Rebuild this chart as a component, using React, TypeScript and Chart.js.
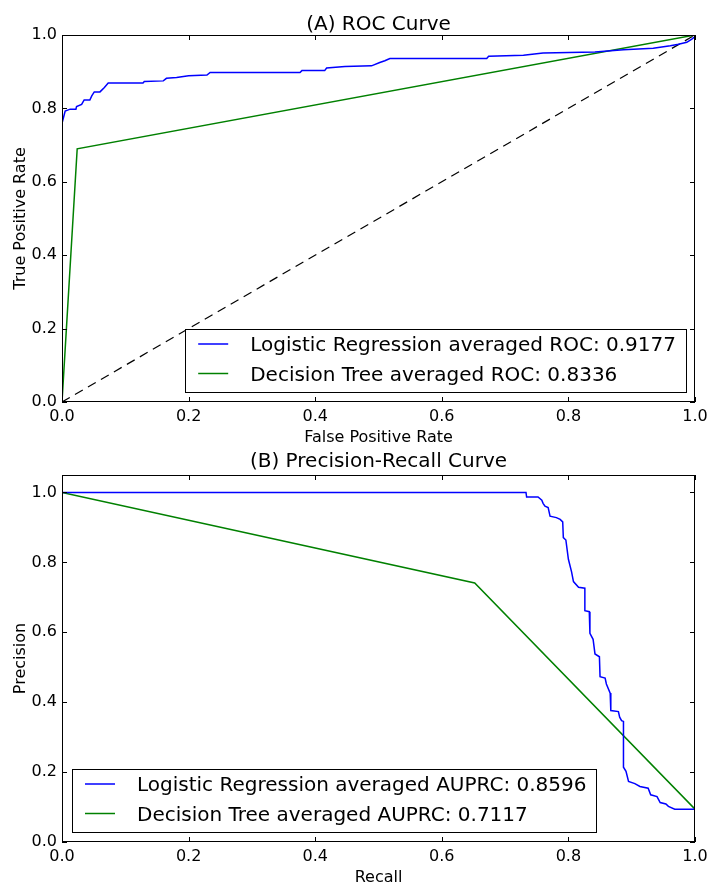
import React, { useEffect, useRef } from "react";
import { Chart, registerables } from "chart.js";

Chart.register(...registerables);

const FONT = '"DejaVu Sans", "Liberation Sans", sans-serif';

// ---------- Data ----------
const unitTicks = [0, 0.2, 0.4, 0.6, 0.8, 1.0];

const rocTitle = "(A) ROC Curve";
const rocXLabel = "False Positive Rate";
const rocYLabel = "True Positive Rate";
const rocLegend = [
  "Logistic Regression averaged ROC: 0.9177",
  "Decision Tree averaged ROC: 0.8336",
];

const rocFprLR = [
  0, 0, 0.0005, 0.005, 0.013, 0.022, 0.023, 0.031, 0.035, 0.044, 0.047, 0.051,
  0.06, 0.067, 0.073, 0.128, 0.13, 0.16, 0.165, 0.181, 0.2, 0.229, 0.234, 0.376,
  0.379, 0.415, 0.418, 0.447, 0.489, 0.502, 0.51, 0.518, 0.671, 0.674, 0.729,
  0.76, 0.842, 0.887, 0.934, 0.961, 0.974, 0.987, 0.995, 1.0, 1.0,
];
const rocTprLR = [
  0, 0.745, 0.761, 0.793, 0.798, 0.798, 0.805, 0.811, 0.823, 0.823, 0.834, 0.845,
  0.845, 0.857, 0.869, 0.869, 0.873, 0.875, 0.882, 0.884, 0.889, 0.891, 0.898,
  0.898, 0.903, 0.903, 0.91, 0.914, 0.916, 0.925, 0.93, 0.936, 0.936, 0.942,
  0.945, 0.951, 0.954, 0.96, 0.964, 0.971, 0.975, 0.98, 0.989, 0.996, 1.0,
];
const rocFprDT = [0, 0.024, 1.0];
const rocTprDT = [0, 0.69, 1.0];
const rocDiagX = [0, 1];
const rocDiagY = [0, 1];

const prTitle = "(B) Precision-Recall Curve";
const prXLabel = "Recall";
const prYLabel = "Precision";
const prLegend = [
  "Logistic Regression averaged AUPRC: 0.8596",
  "Decision Tree averaged AUPRC: 0.7117",
];

const prRecallLR = [
  0, 0.733, 0.734, 0.752, 0.758, 0.76, 0.763, 0.768, 0.771, 0.781, 0.787, 0.791,
  0.792, 0.796, 0.8, 0.805, 0.808, 0.816, 0.826, 0.826, 0.833, 0.834, 0.839,
  0.842, 0.849, 0.85, 0.858, 0.86, 0.866, 0.867, 0.879, 0.881, 0.884, 0.887,
  0.887, 0.891, 0.895, 0.905, 0.913, 0.926, 0.93, 0.94, 0.945, 0.954, 0.958,
  0.968, 1.0,
];
const prPrecLR = [
  1.0, 1.0, 0.987, 0.987, 0.978, 0.969, 0.961, 0.957, 0.932, 0.928, 0.923, 0.916,
  0.871, 0.864, 0.809, 0.773, 0.745, 0.729, 0.726, 0.662, 0.659, 0.597, 0.58,
  0.538, 0.53, 0.473, 0.469, 0.452, 0.426, 0.376, 0.373, 0.357, 0.347, 0.345,
  0.214, 0.202, 0.173, 0.167, 0.159, 0.154, 0.135, 0.13, 0.113, 0.109, 0.102,
  0.094, 0.094,
];
const prRecallDT = [0, 0.652, 1.0];
const prPrecDT = [1.0, 0.741, 0.094];

// ---------- Helpers ----------
const BLUE = "#0000ff";
const GREEN = "#008000";

function pts(xs: number[], ys: number[]) {
  return xs.map((x, i) => ({ x, y: ys[i] }));
}

type PanelCfg = {
  title: string;
  xLabel: string;
  yLabel: string;
  legend: string[];
  legendAlign: "left" | "right";
  yMax: number;
  padTop: number;
  xScaleHeight: number;
  titleBaseline: number; // offset above chart top
  xLabelBaseline: number; // offset below chart bottom
  datasets: any[];
};

function makePlugin(cfg: PanelCfg) {
  return {
    id: "mplFrame",
    afterDatasetsDraw(chart: any) {
      const ctx = chart.ctx;
      const { left, right, top, bottom } = chart.chartArea;
      const xs = chart.scales.x;
      const ys = chart.scales.y;
      ctx.save();
      ctx.strokeStyle = "#000";
      ctx.lineWidth = 1;
      // inward tick marks
      const tl = 5;
      ctx.beginPath();
      unitTicks.forEach((v) => {
        const px = Math.round(xs.getPixelForValue(v)) + 0.5;
        ctx.moveTo(px, bottom);
        ctx.lineTo(px, bottom - tl);
        ctx.moveTo(px, top);
        ctx.lineTo(px, top + tl);
        const py = Math.round(ys.getPixelForValue(v)) + 0.5;
        ctx.moveTo(left, py);
        ctx.lineTo(left + tl, py);
        ctx.moveTo(right, py);
        ctx.lineTo(right - tl, py);
      });
      ctx.stroke();
      // frame
      ctx.strokeRect(left + 0.5, top + 0.5, right - left - 1, bottom - top - 1);

      // legend
      const fs = 20;
      ctx.font = `${fs}px ${FONT}`;
      const tw = Math.max(...cfg.legend.map((t) => ctx.measureText(t).width));
      const boxW = 13 + 30 + 22 + tw + 10;
      const boxH = 63;
      const boxB = bottom - 10;
      const boxT = boxB - boxH;
      const boxL = cfg.legendAlign === "right" ? right - 9 - boxW : left + 10;
      ctx.fillStyle = "#fff";
      ctx.fillRect(boxL, boxT, boxW, boxH);
      ctx.strokeStyle = "#000";
      ctx.strokeRect(Math.round(boxL) + 0.5, Math.round(boxT) + 0.5, Math.round(boxW), Math.round(boxH));
      const colors = [BLUE, GREEN];
      cfg.legend.forEach((t, i) => {
        const ly = boxT + 15 + i * 29.5;
        ctx.strokeStyle = colors[i];
        ctx.lineWidth = 1.5;
        ctx.beginPath();
        ctx.moveTo(boxL + 13, ly);
        ctx.lineTo(boxL + 43, ly);
        ctx.stroke();
        ctx.fillStyle = "#000";
        ctx.textAlign = "left";
        ctx.textBaseline = "alphabetic";
        ctx.fillText(t, boxL + 65, ly + fs * 0.3645);
      });

      // titles
      ctx.fillStyle = "#000";
      ctx.textAlign = "center";
      ctx.textBaseline = "alphabetic";
      ctx.font = `20px ${FONT}`;
      ctx.fillText(cfg.title, (left + right) / 2, top - cfg.titleBaseline);
      ctx.font = `16px ${FONT}`;
      ctx.fillText(cfg.xLabel, (left + right) / 2, bottom + cfg.xLabelBaseline);
      ctx.save();
      ctx.translate(24.5, (top + bottom) / 2);
      ctx.rotate(-Math.PI / 2);
      ctx.fillText(cfg.yLabel, 0, 0);
      ctx.restore();
      ctx.restore();
    },
  };
}

function Panel({ cfg, height }: { cfg: PanelCfg; height: number }) {
  const ref = useRef<HTMLCanvasElement | null>(null);
  useEffect(() => {
    if (!ref.current) return;
    const tickFont = { family: FONT, size: 16 };
    const chart = new Chart(ref.current, {
      type: "line",
      data: { datasets: cfg.datasets },
      options: {
        animation: false,
        responsive: false,
        maintainAspectRatio: false,
        layout: { padding: { top: cfg.padTop, right: 13, left: 0, bottom: 0 } },
        plugins: {
          legend: { display: false },
          title: { display: false },
          tooltip: { enabled: false },
        },
        elements: { point: { radius: 0 }, line: { tension: 0 } },
        scales: {
          x: {
            type: "linear",
            min: 0,
            max: 1,
            grid: { display: false, drawTicks: false },
            border: { display: false },
            ticks: {
              font: tickFont,
              color: "#000",
              padding: 5,
              maxRotation: 0,
              autoSkip: false,
              callback: (v: any) => Number(v).toFixed(1),
            },
            afterBuildTicks: (s: any) => {
              s.ticks = unitTicks.map((v) => ({ value: v }));
            },
            afterFit: (s: any) => {
              s.height = cfg.xScaleHeight;
              s.paddingLeft = 0;
              s.paddingRight = 0;
            },
          },
          y: {
            type: "linear",
            min: 0,
            max: cfg.yMax,
            grid: { display: false, drawTicks: false },
            border: { display: false },
            ticks: {
              font: tickFont,
              color: "#000",
              padding: 5,
              autoSkip: false,
              callback: (v: any) => Number(v).toFixed(1),
            },
            afterBuildTicks: (s: any) => {
              s.ticks = unitTicks.map((v) => ({ value: v }));
            },
            afterFit: (s: any) => {
              s.width = 62;
              s.paddingTop = 0;
              s.paddingBottom = 0;
            },
          },
        },
      },
      plugins: [makePlugin(cfg)],
    } as any);
    return () => chart.destroy();
  }, [cfg, height]);
  return (
    <canvas
      ref={ref}
      width={708}
      height={height}
      style={{ display: "block", width: 708, height }}
    />
  );
}

const rocCfg: PanelCfg = {
  title: rocTitle,
  xLabel: rocXLabel,
  yLabel: rocYLabel,
  legend: rocLegend,
  legendAlign: "right",
  yMax: 1.0,
  padTop: 35,
  xScaleHeight: 45,
  titleBaseline: 5,
  xLabelBaseline: 40,
  datasets: [
    {
      data: pts(rocFprLR, rocTprLR),
      borderColor: BLUE,
      borderWidth: 1.5,
      fill: false,
    },
    {
      data: pts(rocFprDT, rocTprDT),
      borderColor: GREEN,
      borderWidth: 1.5,
      fill: false,
    },
    {
      data: pts(rocDiagX, rocDiagY),
      borderColor: "#000",
      borderWidth: 1.2,
      borderDash: [9, 6],
      fill: false,
    },
  ],
};

const prCfg: PanelCfg = {
  title: prTitle,
  xLabel: prXLabel,
  yLabel: prYLabel,
  legend: prLegend,
  legendAlign: "left",
  yMax: 1.05,
  padTop: 28,
  xScaleHeight: 42,
  titleBaseline: 8,
  xLabelBaseline: 40,
  datasets: [
    {
      data: pts(prRecallLR, prPrecLR),
      borderColor: BLUE,
      borderWidth: 1.5,
      fill: false,
    },
    {
      data: pts(prRecallDT, prPrecDT),
      borderColor: GREEN,
      borderWidth: 1.5,
      fill: false,
    },
  ],
};

export default function App() {
  return (
    <div
      style={{
        position: "absolute",
        left: 0,
        top: 0,
        width: 708,
        height: 884,
        background: "#fff",
        overflow: "hidden",
      }}
    >
      <Panel cfg={rocCfg} height={447} />
      <Panel cfg={prCfg} height={437} />
    </div>
  );
}
